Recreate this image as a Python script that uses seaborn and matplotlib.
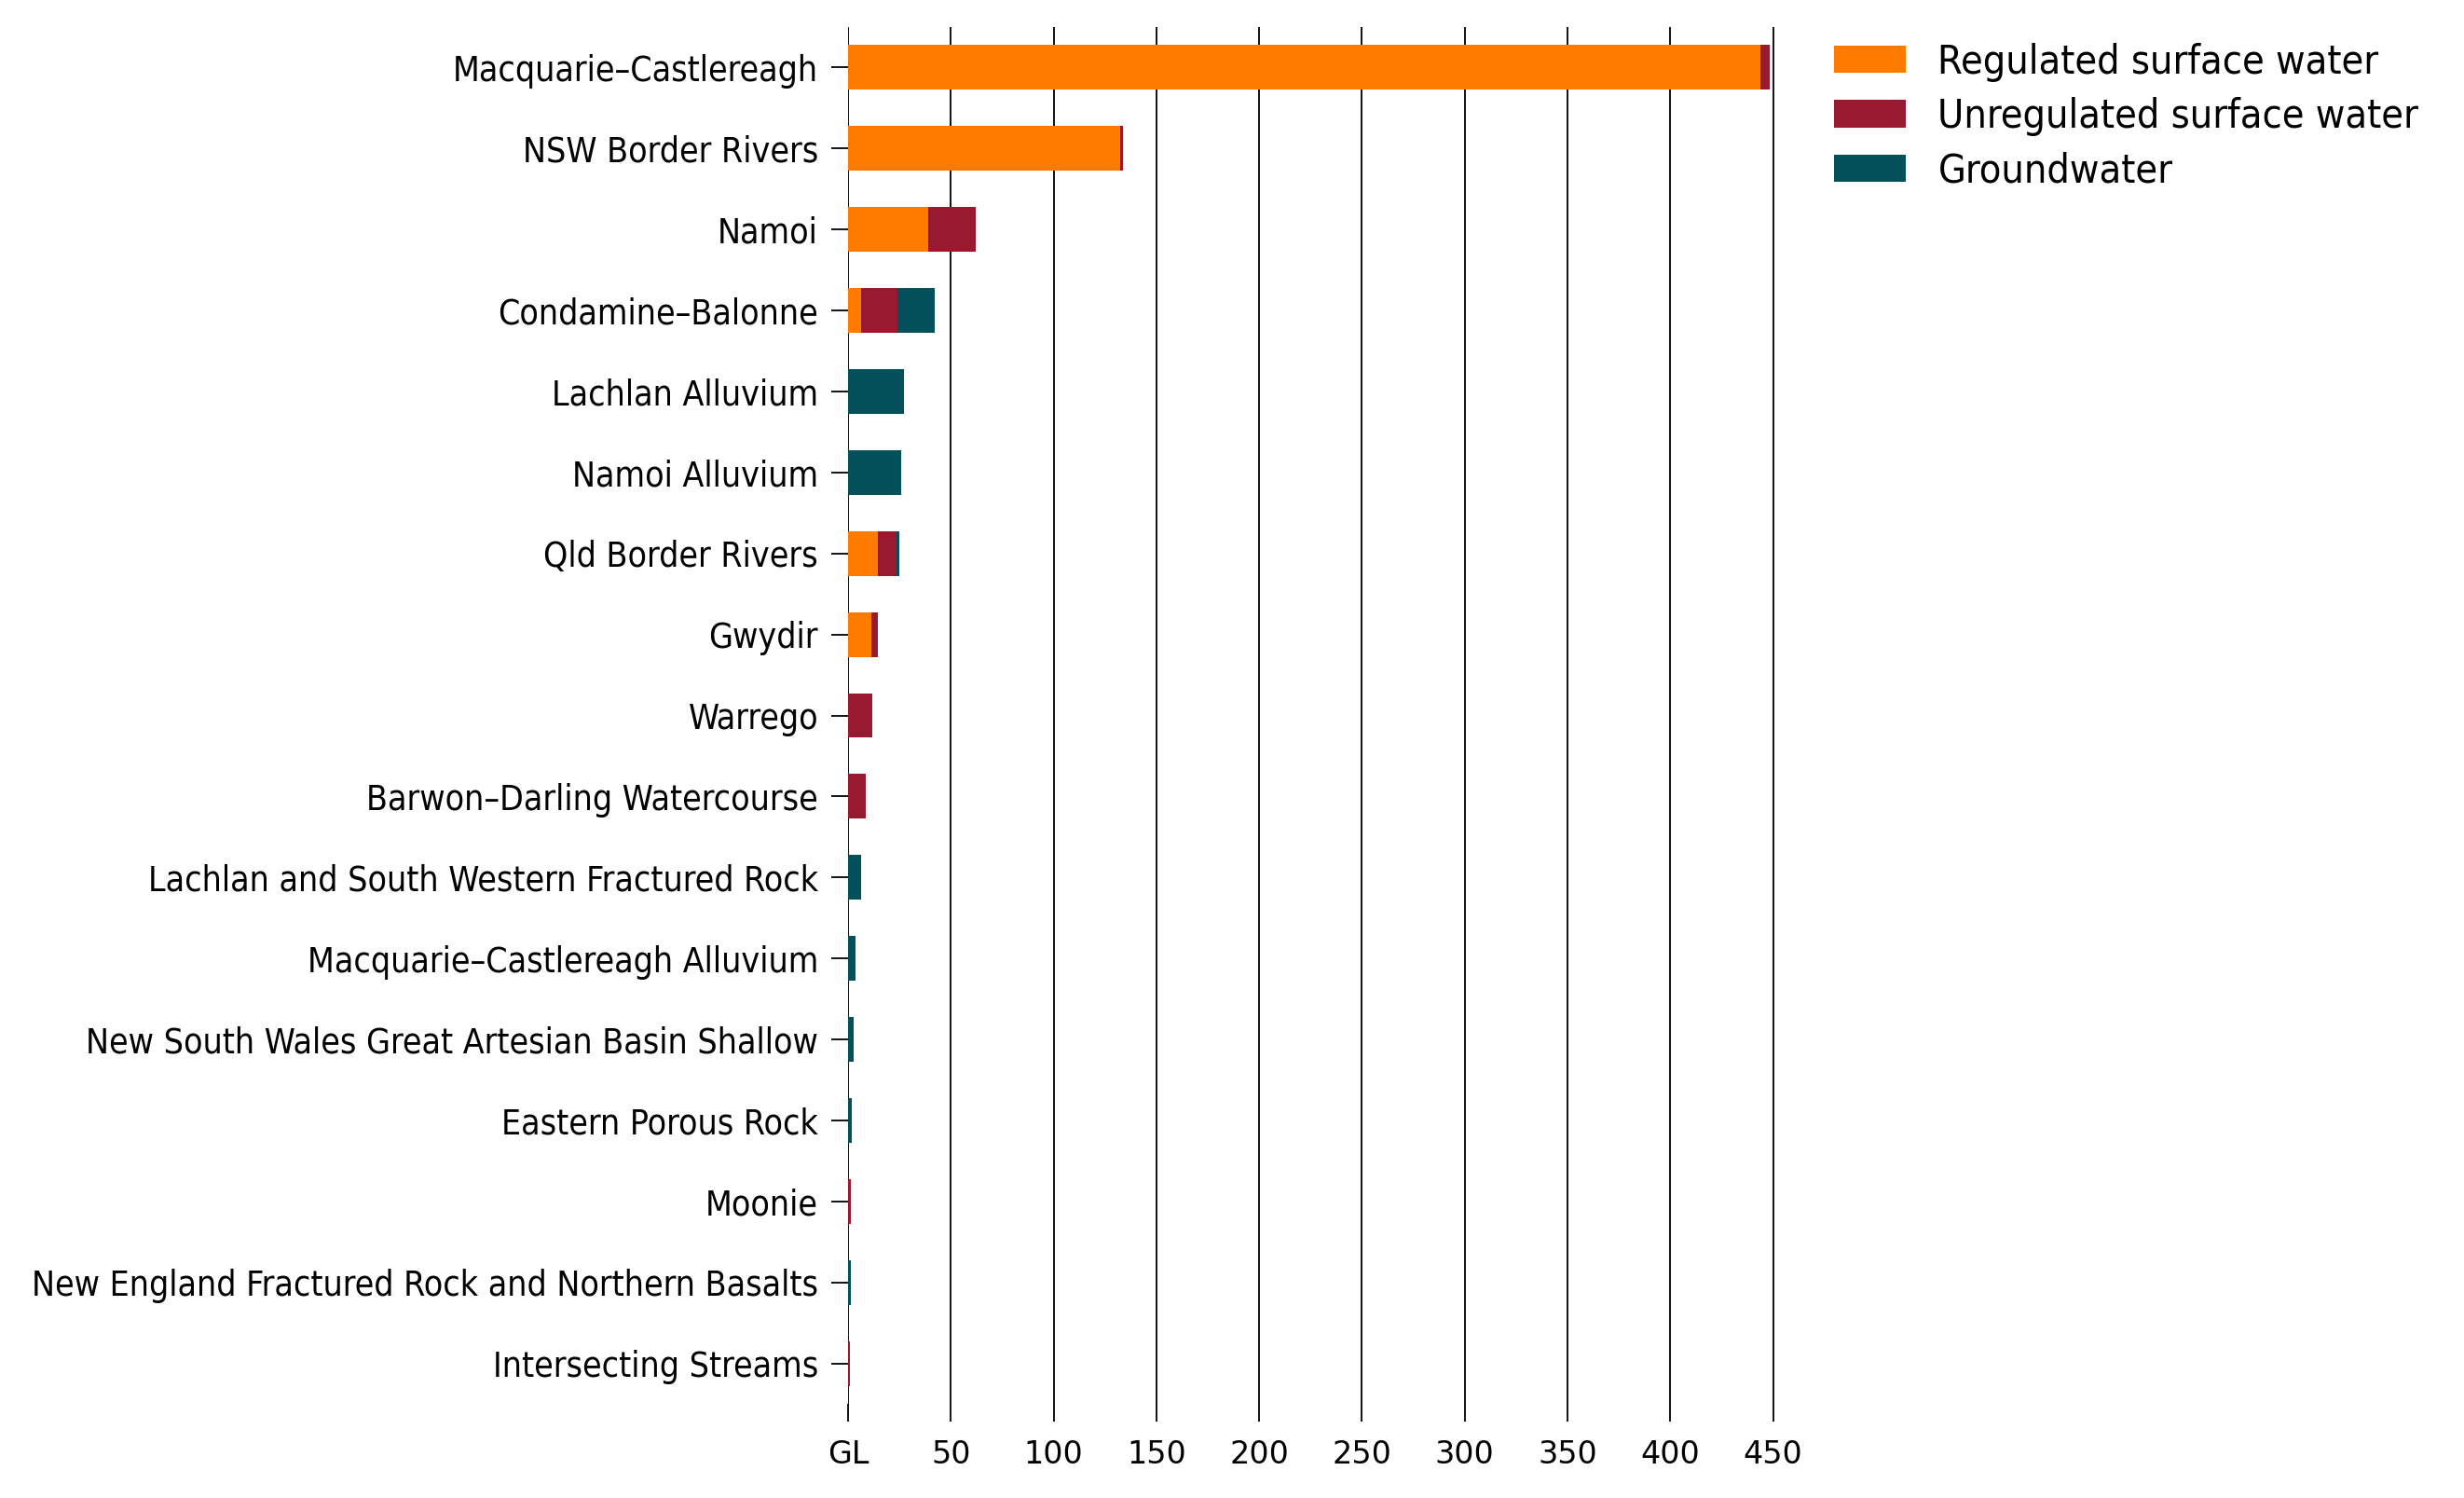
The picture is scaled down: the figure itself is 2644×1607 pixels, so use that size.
import matplotlib
matplotlib.use("Agg")
import matplotlib.pyplot as plt
import numpy as np
import pandas as pd
import seaborn as sns
from matplotlib.patches import Patch

# water take by SDL resource unit (GL)
units = [
    "Macquarie–Castlereagh",
    "NSW Border Rivers",
    "Namoi",
    "Condamine–Balonne",
    "Lachlan Alluvium",
    "Namoi Alluvium",
    "Qld Border Rivers",
    "Gwydir",
    "Warrego",
    "Barwon–Darling Watercourse",
    "Lachlan and South Western Fractured Rock",
    "Macquarie–Castlereagh Alluvium",
    "New South Wales Great Artesian Basin Shallow",
    "Eastern Porous Rock",
    "Moonie",
    "New England Fractured Rock and Northern Basalts",
    "Intersecting Streams",
]
regulated = [444.0, 132.3, 39.1, 6.2, 0, 0, 14.6, 11.2, 0, 0, 0, 0, 0, 0, 0, 0, 0]
unregulated = [4.5, 1.3, 23.2, 18.0, 0, 0, 8.9, 3.2, 11.7, 8.4, 0, 0, 0, 0, 1.2, 0, 0.7]
groundwater = [0, 0, 0, 17.8, 27.0, 25.8, 1.6, 0, 0, 0, 6.5, 3.5, 2.6, 1.6, 0, 1.2, 0]

series = ["Regulated surface water", "Unregulated surface water", "Groundwater"]
colors = ["#FF7B00", "#971A31", "#03505A"]
xticks = [0, 50, 100, 150, 200, 250, 300, 350, 400, 450]
xticklabels = ["GL"] + [str(t) for t in xticks[1:]]

df = pd.DataFrame({
    "unit": units,
    "reg": regulated,
    "unreg": unregulated,
    "gw": groundwater,
})
# cumulative ends so the layers stack when drawn back to front
df["c1"] = df["reg"]
df["c2"] = df["reg"] + df["unreg"]
df["c3"] = df["c2"] + df["gw"]

sns.set_style("white")
plt.rcParams["font.family"] = ["DejaVu Sans"]
plt.rcParams["text.color"] = "black"
plt.rcParams["xtick.color"] = "black"
plt.rcParams["ytick.color"] = "black"

fig = plt.figure(figsize=(26.44, 16.07), dpi=100)
ax = fig.add_axes([0.3442, 0.0628, 0.3762, 0.9192])

for col, c in zip(["c3", "c2", "c1"], colors[::-1]):
    sns.barplot(data=df, x=col, y="unit", orient="h", color=c,
                width=0.55, saturation=1, linewidth=0, edgecolor="none",
                ax=ax, zorder=3)

ax.set_xlim(0, 451)
ax.set_ylim(16.5, -0.5)
ax.set_xticks(xticks)
ax.set_xticklabels(xticklabels, fontsize=24)
ax.set_xlabel("")
ax.set_ylabel("")
for lab in ax.get_yticklabels():
    lab.set_fontsize(26.8)
    lab.set_fontstretch("condensed")

ax.grid(axis="x", color="black", lw=1.3, zorder=0)
ax.grid(axis="y", visible=False)
for s in ax.spines.values():
    s.set_visible(False)
ax.tick_params(axis="y", left=True, length=13, width=1.3, color="black", pad=10)
ax.tick_params(axis="x", bottom=True, length=14, width=1.3, color="black", pad=13)

handles = [Patch(facecolor=c, edgecolor="none", label=s) for s, c in zip(series, colors)]
fig.legend(handles=handles, loc="upper left", bbox_to_anchor=(0.736, 0.985),
           frameon=False, borderpad=0, handlelength=1.8, handleheight=0.67,
           handletextpad=0.8, labelspacing=0.38,
           prop={"size": 31, "stretch": "condensed"})

fig.savefig("out.png", dpi=100)
